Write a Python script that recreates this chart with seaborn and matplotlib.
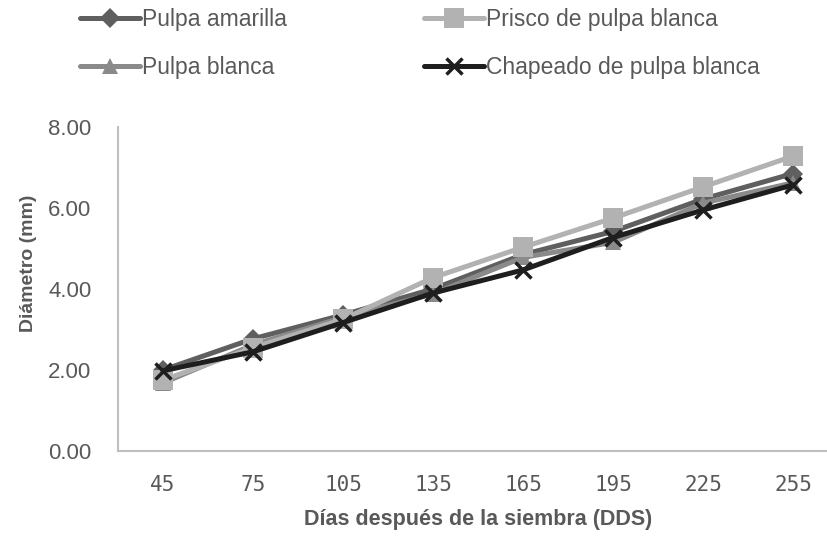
import matplotlib
matplotlib.use('Agg')
import matplotlib.pyplot as plt
import seaborn as sns

# datos
dias = [45, 75, 105, 135, 165, 195, 225, 255]
pulpa_amarilla = [2.00, 2.77, 3.36, 4.00, 4.85, 5.42, 6.22, 6.85]
pulpa_blanca = [1.68, 2.62, 3.30, 3.88, 4.78, 5.15, 6.12, 6.62]
prisco = [1.75, 2.55, 3.25, 4.28, 5.03, 5.75, 6.52, 7.28]
chapeado = [1.98, 2.45, 3.17, 3.90, 4.47, 5.27, 5.95, 6.57]
y_ticks = [0, 2, 4, 6, 8]

sns.set_style('white')
plt.rcParams['font.family'] = ['Liberation Sans', 'DejaVu Sans']
texto = '#595959'

fig = plt.figure(figsize=(8.27, 5.36), dpi=100)
ax = fig.add_axes([0.1427, 0.1586, 0.8706, 0.6045])

# orden de dibujo = orden de la leyenda (columna por columna)
series = [
    ('Pulpa amarilla', pulpa_amarilla, '#5f5f5f', 'D', 10.5, 0),
    ('Pulpa blanca', pulpa_blanca, '#8a8a8a', '^', 12, 0),
    ('Prisco de pulpa blanca', prisco, '#b2b2b2', 's', 14, 0),
    ('Chapeado de pulpa blanca', chapeado, '#1e1e1e', 'x', 12, 2.5),
]
for nombre, valores, color, marcador, tam, mew in series:
    sns.lineplot(x=dias, y=valores, ax=ax, color=color, linewidth=3.6,
                 marker=marcador, markersize=tam, mew=mew, mec=color,
                 label=nombre, clip_on=False)

ax.set_xlim(30, 270)
ax.set_ylim(0, 8)
ax.set_xticks(dias)
ax.set_xticklabels([str(d) for d in dias], family='DejaVu Sans Mono',
                   fontsize=15, color=texto)
ax.set_yticks(y_ticks)
ax.set_yticklabels([f'{v:.2f}' for v in y_ticks], fontsize=16, color=texto)
ax.tick_params(axis='both', length=0)
ax.tick_params(axis='y', pad=19)
ax.tick_params(axis='x', pad=17)

for lado in ['top', 'right']:
    ax.spines[lado].set_visible(False)
for lado in ['left', 'bottom']:
    ax.spines[lado].set_color('#bfbfbf')
    ax.spines[lado].set_linewidth(1.5)

ax.set_xlabel('Días después de la siembra (DDS)', fontsize=15.5,
              fontweight='bold', color=texto)
ax.xaxis.set_label_coords(0.5, -0.18)
ax.set_ylabel('Diámetro (mm)', fontsize=14, fontweight='bold', color=texto)
ax.yaxis.set_label_coords(-0.112, 0.58)

leg = ax.legend(ncol=2, loc='upper left', bbox_to_anchor=(0.097, 0.985),
                bbox_transform=fig.transFigure, frameon=False, fontsize=16.5,
                handlelength=2.6, handletextpad=0.1, columnspacing=6,
                labelspacing=1.1, borderpad=0, borderaxespad=0)
for t in leg.get_texts():
    t.set_color(texto)

fig.savefig('out.png', dpi=100)
